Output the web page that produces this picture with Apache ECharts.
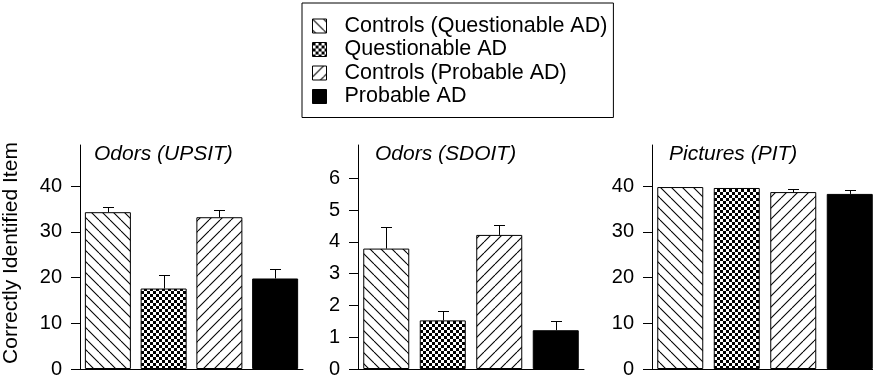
<!DOCTYPE html>
<html>
<head>
<meta charset="utf-8">
<script src="https://cdn.jsdelivr.net/npm/echarts@6/dist/echarts.min.js"></script>
<style>
  html, body { margin: 0; padding: 0; background: #fff; overflow: hidden; }
  /* the canvas is a little wider than the window: the last panel runs off the right edge */
  #chart { width: 880px; height: 379px; }
</style>
</head>
<body>
<div id="chart"></div>
<script>
// Groups shown in the legend and along each panel's category axis
const groups = ['Controls (Questionable AD)', 'Questionable AD', 'Controls (Probable AD)', 'Probable AD'];
const panelTitles = ['Odors (UPSIT)', 'Odors (SDOIT)', 'Pictures (PIT)'];

// Mean correctly identified items, and mean + SE (top of the error bar)
const upsitMean  = [34.3, 17.6, 33.2, 19.8];
const upsitUpper = [35.5, 20.5, 34.7, 21.8];
const sdoitMean  = [3.79, 1.53, 4.22, 1.22];
const sdoitUpper = [4.48, 1.84, 4.53, 1.52];
const pitMean    = [39.8, 39.6, 38.7, 38.3];
const pitUpper   = [39.8, 39.6, 39.4, 39.1];

// Tick labels for each panel's value axis
const ticksUpsit = [0, 10, 20, 30, 40];
const ticksSdoit = [0, 1, 2, 3, 4, 5, 6];
const ticksPit   = [0, 10, 20, 30, 40];

const panels = [
  { mean: upsitMean, upper: upsitUpper, ticks: ticksUpsit, max: 49, left: 77 },
  { mean: sdoitMean, upper: sdoitUpper, ticks: ticksSdoit, max: 7.05, left: 358 },
  { mean: pitMean,   upper: pitUpper,   ticks: ticksPit,   max: 49, left: 652 }
];
const PANEL_W = 226;

const FONT = '"Liberation Sans", Arial, Helvetica, sans-serif';

// Fill patterns: "\" hatch, checkerboard, "/" hatch, solid black
function hatch(back) {
  const s = 11;
  const c = document.createElement('canvas');
  c.width = s; c.height = s;
  const g = c.getContext('2d');
  g.fillStyle = '#fff'; g.fillRect(0, 0, s, s);
  g.strokeStyle = '#000'; g.lineWidth = 1.1;
  for (const o of [-s, 0, s]) {
    g.beginPath();
    if (back) { g.moveTo(o, 0); g.lineTo(o + s, s); }
    else { g.moveTo(o, s); g.lineTo(o + s, 0); }
    g.stroke();
  }
  return { image: c, repeat: 'repeat' };
}
function checker() {
  const c = document.createElement('canvas');
  c.width = 6; c.height = 6;
  const g = c.getContext('2d');
  g.fillStyle = '#fff'; g.fillRect(0, 0, 6, 6);
  g.fillStyle = '#000';
  g.fillRect(0, 0, 3, 3); g.fillRect(3, 3, 3, 3);
  return { image: c, repeat: 'repeat' };
}
const fills = [hatch(true), checker(), hatch(false), '#000'];

const grids = [], xAxes = [], yAxes = [], titles = [], series = [];

panels.forEach((p, pi) => {
  grids.push({ left: p.left, width: PANEL_W, top: 145, bottom: 9.5 });
  xAxes.push({
    type: 'category', gridIndex: pi, data: groups,
    axisLine: { lineStyle: { color: '#000', width: 1 } },
    axisTick: { show: false }, axisLabel: { show: false }
  });
  yAxes.push({
    type: 'value', gridIndex: pi, min: 0, max: p.max,
    splitLine: { show: false },
    axisLine: { show: true, lineStyle: { color: '#000', width: 1 } },
    axisTick: { show: true, length: 9, customValues: p.ticks, lineStyle: { color: '#000' } },
    axisLabel: { customValues: p.ticks, margin: 18, color: '#000', fontSize: 20, fontFamily: FONT },
    name: pi === 0 ? 'Correctly Identified Item' : '',
    nameLocation: 'middle', nameGap: 58,
    nameTextStyle: { color: '#000', fontSize: 21, fontFamily: FONT, padding: [0, 0, 0, 8] }
  });
  titles.push({
    text: panelTitles[pi], left: p.left + 17, top: 144, padding: 0,
    textStyle: { fontSize: 21, fontStyle: 'italic', fontWeight: 'normal', color: '#000', fontFamily: FONT }
  });
  groups.forEach((name, gi) => {
    series.push({
      type: 'bar', name, xAxisIndex: pi, yAxisIndex: pi,
      barWidth: 46, barGap: '-100%',
      data: groups.map((_, k) => (k === gi ? p.mean[gi] : '-')),
      itemStyle: { color: fills[gi], borderColor: '#000', borderWidth: 1 },
      emphasis: { disabled: true }, animation: false
    });
  });
  // One-sided error bars above each bar
  series.push({
    type: 'custom', xAxisIndex: pi, yAxisIndex: pi, z: 5, animation: false,
    data: p.mean.map((m, k) => [k, m, p.upper[k]]),
    encode: { x: 0, y: [1, 2] },
    renderItem: (params, api) => {
      const lo = api.coord([api.value(0), api.value(1)]);
      const hi = api.coord([api.value(0), api.value(2)]);
      if (lo[1] - hi[1] < 1) return null;
      const st = { stroke: '#000', lineWidth: 1 };
      const x = Math.round(lo[0]) + 0.5;
      const yh = Math.round(hi[1]) + 0.5;
      return {
        type: 'group', children: [
          { type: 'line', shape: { x1: x, y1: lo[1], x2: x, y2: yh }, style: st },
          { type: 'line', shape: { x1: x - 5.5, y1: yh, x2: x + 5.5, y2: yh }, style: st }
        ]
      };
    }
  });
});

const chart = echarts.init(document.getElementById('chart'), null, { renderer: 'canvas' });
chart.setOption({
  animation: false,
  backgroundColor: '#fff',
  title: titles,
  legend: {
    data: groups, orient: 'vertical', left: 302, top: 3,
    icon: 'rect', itemWidth: 14, itemHeight: 14, itemGap: 1.5,
    padding: [12, 6, 10, 10],
    borderColor: '#000', borderWidth: 1,
    selectedMode: false,
    itemStyle: { borderColor: '#000', borderWidth: 1 },
    textStyle: { fontSize: 21.5, lineHeight: 21, color: '#000', fontFamily: FONT, padding: [0, 0, 0, 13] }
  },
  grid: grids,
  xAxis: xAxes,
  yAxis: yAxes,
  series
});
</script>
</body>
</html>
